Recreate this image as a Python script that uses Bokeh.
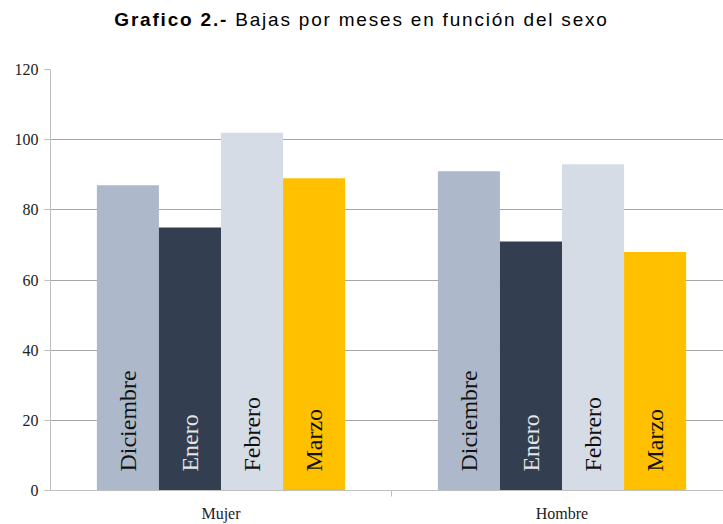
import numpy as np
from bokeh.plotting import figure
from bokeh.models import Range1d, FixedTicker, ColumnDataSource, Div
from bokeh.layouts import column
from bokeh.core.properties import value
from bokeh.embed import file_html
from bokeh.resources import INLINE

groups = ["Mujer", "Hombre"]
months = ["Diciembre", "Enero", "Febrero", "Marzo"]
mujer = [87, 75, 102, 89]
hombre = [91, 71, 93, 68]
colors = ["#ADB9CA", "#333F50", "#D6DCE5", "#FFC000"]
text_colors = ["#111111", "#E6E6E6", "#111111", "#111111"]
y_ticks = [0, 20, 40, 60, 80, 100, 120]

series = [mujer, hombre]
bar_w = 0.182
xs, tops, fills, labels, tcols = [], [], [], [], []
for gi, vals in enumerate(series):
    for mi, v in enumerate(vals):
        xs.append(gi + 0.5 + (mi - 1.5) * bar_w)
        tops.append(v)
        fills.append(colors[mi])
        labels.append(months[mi])
        tcols.append(text_colors[mi])

src = ColumnDataSource(dict(x=xs, top=tops, fill=fills, label=labels, tcol=tcols))

SERIF = "Liberation Serif"

title = Div(
    text='<div style="font-family:\'Liberation Sans\',Arial,sans-serif;font-size:19px;color:#000;'
         'letter-spacing:1.8px;text-align:center;width:723px;">'
         '<b>Grafico 2.-</b> Bajas por meses en función del sexo</div>',
    width=723, height=40,
    styles={"margin": "0", "padding-top": "6px"},
)

p = figure(width=723, height=484, output_backend="svg", toolbar_location=None,
           x_range=Range1d(0, (723 - 50) / 341.0), y_range=Range1d(0, 120),
           min_border_left=50, min_border_right=0, min_border_top=29, min_border_bottom=33)
p.outline_line_color = None
p.background_fill_color = "white"

p.vbar(x="x", top="top", width=bar_w, bottom=0, fill_color="fill", line_color=None, source=src)
p.text(x="x", y=5.4, text="label", angle=np.pi / 2, text_align="left", text_baseline="middle",
       text_font=value(SERIF), text_font_size="24px", text_color="tcol", source=src)

# y axis
p.yaxis.ticker = FixedTicker(ticks=y_ticks)
p.yaxis.axis_line_color = "#BFBFBF"
p.yaxis.major_tick_line_color = "#BFBFBF"
p.yaxis.major_tick_out = 6
p.yaxis.major_tick_in = 0
p.yaxis.minor_tick_line_color = None
p.yaxis.major_label_text_font = SERIF
p.yaxis.major_label_text_font_size = "16px"
p.yaxis.major_label_text_color = "#222222"
p.yaxis.major_label_standoff = 6
p.ygrid.grid_line_color = "#A6A6A6"
p.ygrid.ticker = FixedTicker(ticks=y_ticks)

# x axis
p.xaxis.ticker = FixedTicker(ticks=[0.5, 1.5], minor_ticks=[1.0])
p.xaxis.major_label_overrides = {0.5: groups[0], 1.5: groups[1]}
p.xaxis.axis_line_color = "#BFBFBF"
p.xaxis.major_tick_line_color = None
p.xaxis.minor_tick_line_color = "#BFBFBF"
p.xaxis.minor_tick_out = 6
p.xaxis.minor_tick_in = 0
p.xaxis.major_label_text_font = SERIF
p.xaxis.major_label_text_font_size = "16px"
p.xaxis.major_label_text_color = "#222222"
p.xaxis.major_label_standoff = 8
p.xgrid.grid_line_color = None

layout = column(title, p, spacing=0)
open("out.html", "w").write(file_html(layout, INLINE))
